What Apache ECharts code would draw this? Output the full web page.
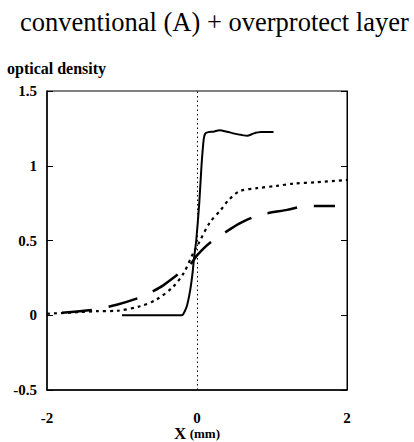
<!DOCTYPE html>
<html><head><meta charset="utf-8">
<script src="https://cdn.jsdelivr.net/npm/echarts@6/dist/echarts.min.js"></script>
<style>html,body{margin:0;padding:0;background:#fff}#c{width:414px;height:442px}</style>
</head><body><div id="c"></div>
<script>
var xTicks = [-2, 0, 2];
var yTicks = [-0.5, 0, 0.5, 1, 1.5];
var solidX = [-1.0,-0.6,-0.2,-0.16,-0.13,-0.09,-0.06,-0.04,-0.01,0.03,0.06,0.09,0.11,0.15,0.22,0.3,0.4,0.5,0.6,0.67,0.75,0.85,1.02];
var solidY = [0,0,0,0.03,0.07,0.17,0.28,0.38,0.5,0.75,1.0,1.18,1.215,1.225,1.228,1.238,1.228,1.215,1.205,1.2,1.215,1.225,1.225];
var dottedX = [-2,-1.6,-1.34,-1.07,-0.76,-0.54,-0.32,-0.18,-0.05,0.02,0.17,0.31,0.42,0.57,0.8,1.06,1.28,1.6,2.0];
var dottedY = [0.01,0.02,0.027,0.03,0.06,0.105,0.19,0.28,0.416,0.48,0.62,0.70,0.77,0.83,0.85,0.865,0.88,0.89,0.905];
var dashedX = [-1.8,-1.36,-1.07,-0.72,-0.45,-0.09,0,0.17,0.55,0.82,1.2,1.44,1.84];
var dashedY = [0.016,0.038,0.07,0.127,0.2,0.34,0.4,0.483,0.61,0.67,0.705,0.73,0.73];
function pairs(xs, ys){ return xs.map(function(x,i){return [x, ys[i]];}); }
var serif = 'Liberation Serif';
var chart = echarts.init(document.getElementById('c'), null, {renderer:'svg'});
chart.setOption({
  animation:false,
  title:{text:'conventional (A) + overprotect layer', left:15, top:3,
    textStyle:{fontFamily:serif, fontSize:26.5, fontWeight:'normal', color:'#000'}},
  graphic:[{type:'text', left:7, top:60, style:{text:'optical density', font:'bold 16px "Liberation Serif"', fill:'#000'}}],
  grid:{left:47, right:67, top:91, bottom:52, show:true, borderColor:'#000', borderWidth:1, outerBoundsMode:'none', containLabel:false},
  xAxis:[{type:'value', min:xTicks[0], max:xTicks[xTicks.length-1], interval:2,
    axisLine:{show:true, onZero:false, lineStyle:{color:'#000', width:1.5}},
    axisTick:{show:false}, splitLine:{show:false},
    axisLabel:{fontFamily:serif, fontWeight:'bold', fontSize:15, lineHeight:13, color:'#000', margin:21},
    name:'{a|X} {b|(mm)}', nameLocation:'middle', nameGap:36, nameMoveOverlap:false,
    nameTextStyle:{verticalAlign:'top', lineHeight:14, rich:{a:{fontFamily:serif, fontWeight:'bold', fontSize:17, lineHeight:14, color:'#000'},
      b:{fontFamily:serif, fontWeight:'bold', fontSize:13, lineHeight:14, color:'#000'}}}}],
  yAxis:[{type:'value', min:yTicks[0], max:yTicks[yTicks.length-1], interval:0.5,
    axisLine:{show:true, onZero:false, lineStyle:{color:'#000', width:1.5}},
    axisTick:{show:true, inside:true, length:6, lineStyle:{color:'#000'}},
    splitLine:{show:false},
    axisLabel:{fontFamily:serif, fontWeight:'bold', fontSize:15, color:'#000', margin:10}},
   {type:'value', position:'right', min:yTicks[0], max:yTicks[yTicks.length-1], interval:0.5,
    axisLine:{show:true, onZero:false, lineStyle:{color:'#000', width:1}},
    axisTick:{show:true, inside:true, length:6, lineStyle:{color:'#000'}},
    splitLine:{show:false}, axisLabel:{show:false}}],
  series:[
    {type:'line', data:pairs(solidX, solidY), showSymbol:false, smooth:0.2,
     lineStyle:{color:'#000', width:2}, z:3,
     markLine:{silent:true, symbol:'none', label:{show:false},
       lineStyle:{color:'#000', width:1, type:[1.5,3]}, data:[{xAxis:0}]}},
    {type:'line', data:pairs(dottedX, dottedY), showSymbol:false, smooth:0.3,
     lineStyle:{color:'#000', width:2.2, type:[3,4]}},
    {type:'line', data:pairs(dashedX, dashedY), showSymbol:false, smooth:0.2,
     lineStyle:{color:'#000', width:2.5, type:[30,17]}}
  ]
});
</script></body></html>
